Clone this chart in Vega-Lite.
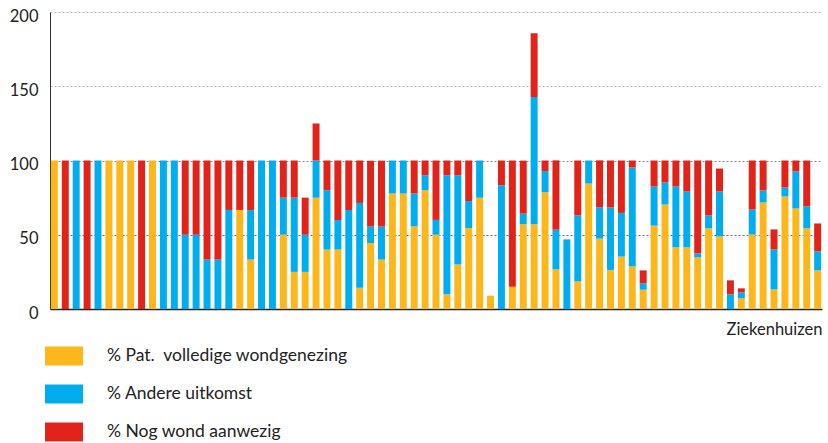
{
  "$schema": "https://vega.github.io/schema/vega-lite/v6.json",
  "autosize": "none",
  "width": 772,
  "height": 297,
  "padding": {"left": 50, "top": 12, "right": 6, "bottom": 134},
  "background": "white",
  "config": {"view": {"stroke": null}, "font": "Lato"},
  "data": {"values": [
    {"h":1,"a_gen":100,"b_and":0,"c_nog":0},
    {"h":2,"a_gen":0,"b_and":0,"c_nog":100},
    {"h":3,"a_gen":0,"b_and":100,"c_nog":0},
    {"h":4,"a_gen":0,"b_and":0,"c_nog":100},
    {"h":5,"a_gen":0,"b_and":100,"c_nog":0},
    {"h":6,"a_gen":100,"b_and":0,"c_nog":0},
    {"h":7,"a_gen":100,"b_and":0,"c_nog":0},
    {"h":8,"a_gen":100,"b_and":0,"c_nog":0},
    {"h":9,"a_gen":0,"b_and":0,"c_nog":100},
    {"h":10,"a_gen":100,"b_and":0,"c_nog":0},
    {"h":11,"a_gen":0,"b_and":100,"c_nog":0},
    {"h":12,"a_gen":0,"b_and":100,"c_nog":0},
    {"h":13,"a_gen":0,"b_and":50,"c_nog":50},
    {"h":14,"a_gen":0,"b_and":50,"c_nog":50},
    {"h":15,"a_gen":0,"b_and":33.3,"c_nog":66.7},
    {"h":16,"a_gen":0,"b_and":33.3,"c_nog":66.7},
    {"h":17,"a_gen":0,"b_and":66.7,"c_nog":33.3},
    {"h":18,"a_gen":66.7,"b_and":0,"c_nog":33.3},
    {"h":19,"a_gen":33.3,"b_and":33.3,"c_nog":33.3},
    {"h":20,"a_gen":0,"b_and":100,"c_nog":0},
    {"h":21,"a_gen":0,"b_and":100,"c_nog":0},
    {"h":22,"a_gen":50,"b_and":25,"c_nog":25},
    {"h":23,"a_gen":25,"b_and":50,"c_nog":25},
    {"h":24,"a_gen":25,"b_and":25,"c_nog":25},
    {"h":25,"a_gen":75,"b_and":25,"c_nog":25},
    {"h":26,"a_gen":40,"b_and":40,"c_nog":20},
    {"h":27,"a_gen":40,"b_and":20,"c_nog":40},
    {"h":28,"a_gen":0,"b_and":66.7,"c_nog":33.3},
    {"h":29,"a_gen":14.3,"b_and":57.1,"c_nog":28.6},
    {"h":30,"a_gen":44.4,"b_and":11.1,"c_nog":44.4},
    {"h":31,"a_gen":33.3,"b_and":22.2,"c_nog":44.4},
    {"h":32,"a_gen":77.8,"b_and":22.2,"c_nog":0},
    {"h":33,"a_gen":77.8,"b_and":22.2,"c_nog":0},
    {"h":34,"a_gen":55.6,"b_and":22.2,"c_nog":22.2},
    {"h":35,"a_gen":80,"b_and":10,"c_nog":10},
    {"h":36,"a_gen":50,"b_and":10,"c_nog":40},
    {"h":37,"a_gen":10,"b_and":80,"c_nog":10},
    {"h":38,"a_gen":30,"b_and":60,"c_nog":10},
    {"h":39,"a_gen":54.5,"b_and":18.2,"c_nog":27.3},
    {"h":40,"a_gen":75,"b_and":25,"c_nog":0},
    {"h":41,"a_gen":9,"b_and":0,"c_nog":0},
    {"h":42,"a_gen":0,"b_and":83.3,"c_nog":16.7},
    {"h":43,"a_gen":15,"b_and":0,"c_nog":85},
    {"h":44,"a_gen":57.1,"b_and":7.1,"c_nog":35.7},
    {"h":45,"a_gen":57.1,"b_and":85.7,"c_nog":42.9},
    {"h":46,"a_gen":78.6,"b_and":14.3,"c_nog":7.1},
    {"h":47,"a_gen":26.7,"b_and":26.7,"c_nog":46.7},
    {"h":48,"a_gen":0,"b_and":46.9,"c_nog":0},
    {"h":49,"a_gen":18.6,"b_and":44.4,"c_nog":37},
    {"h":50,"a_gen":84.5,"b_and":15.5,"c_nog":0},
    {"h":51,"a_gen":47.4,"b_and":21.1,"c_nog":31.6},
    {"h":52,"a_gen":26.3,"b_and":42.1,"c_nog":31.6},
    {"h":53,"a_gen":35.3,"b_and":29.4,"c_nog":35.3},
    {"h":54,"a_gen":28.7,"b_and":66.6,"c_nog":4.7},
    {"h":55,"a_gen":13,"b_and":4.3,"c_nog":8.7},
    {"h":56,"a_gen":56.1,"b_and":26.4,"c_nog":17.5},
    {"h":57,"a_gen":70.4,"b_and":14.8,"c_nog":14.8},
    {"h":58,"a_gen":41.5,"b_and":41,"c_nog":17.5},
    {"h":59,"a_gen":41.5,"b_and":37.6,"c_nog":20.9},
    {"h":60,"a_gen":34.8,"b_and":2.6,"c_nog":62.6},
    {"h":61,"a_gen":54.3,"b_and":8.7,"c_nog":37},
    {"h":62,"a_gen":48.9,"b_and":30.2,"c_nog":15.5},
    {"h":63,"a_gen":0,"b_and":9.9,"c_nog":9.4},
    {"h":64,"a_gen":7.2,"b_and":4,"c_nog":2.7},
    {"h":65,"a_gen":50.2,"b_and":16.8,"c_nog":33},
    {"h":66,"a_gen":71.7,"b_and":8.1,"c_nog":20.2},
    {"h":67,"a_gen":13.2,"b_and":26.9,"c_nog":13.5},
    {"h":68,"a_gen":75.8,"b_and":6,"c_nog":18.2},
    {"h":69,"a_gen":67.7,"b_and":24.9,"c_nog":7.4},
    {"h":70,"a_gen":54.3,"b_and":14.8,"c_nog":30.9},
    {"h":71,"a_gen":26,"b_and":12.8,"c_nog":18.8}
  ]},
  "transform": [
    {"fold": ["a_gen", "b_and", "c_nog"], "as": ["k", "v"]},
    {"filter": "datum.v > 0"}
  ],
  "mark": {"type": "bar"},
  "encoding": {
    "x": {
      "field": "h", "type": "ordinal",
      "scale": {"paddingInner": 0.36, "paddingOuter": 0.08},
      "axis": {
        "labels": false, "ticks": false,
        "domainColor": "#222", "domainWidth": 1.5,
        "title": "Ziekenhuizen", "titleAnchor": "end",
        "titleFontWeight": "normal", "titleFontSize": 16.5, "titleColor": "#222",
        "titleFont": "Lato", "titlePadding": 12
      }
    },
    "y": {
      "field": "v", "type": "quantitative", "stack": "zero",
      "scale": {"domain": [0, 200], "nice": false},
      "axis": {
        "values": [0, 50, 100, 150, 200],
        "title": null, "ticks": false,
        "domainColor": "#333", "domainWidth": 1,
        "labelFont": "Lato", "labelFontSize": 16.5, "labelColor": "#222",
        "labelPadding": 12, "labelOffset": 4,
        "gridDash": [2, 2], "gridWidth": 1,
        "gridColor": {"condition": [
          {"test": "datum.value === 50", "value": "#7d5a99"},
          {"test": "datum.value === 100", "value": "#8c8c8c"},
          {"test": "datum.value === 0", "value": "transparent"}
        ], "value": "#c4b2d2"}
      }
    },
    "color": {
      "field": "k", "type": "nominal",
      "scale": {"domain": ["a_gen", "b_and", "c_nog"], "range": ["#FDB71A", "#00AEEF", "#E2231A"]},
      "legend": {
        "title": null, "orient": "none", "legendX": -5, "legendY": 325,
        "direction": "vertical",
        "symbolType": "M-1,-0.5H1V0.5H-1Z", "symbolSize": 1444,
        "symbolStrokeWidth": 0, "symbolOpacity": 1,
        "labelFont": "Lato", "labelFontSize": 17.5, "labelColor": "#222",
        "labelOffset": 24, "rowPadding": 9, "labelLimit": 400,
        "labelExpr": "{'a_gen': '% Pat. \u00a0volledige wondgenezing', 'b_and': '% Andere uitkomst', 'c_nog': '% Nog wond aanwezig'}[datum.value]"
      }
    },
    "order": {"field": "k", "sort": "ascending"}
  }
}
